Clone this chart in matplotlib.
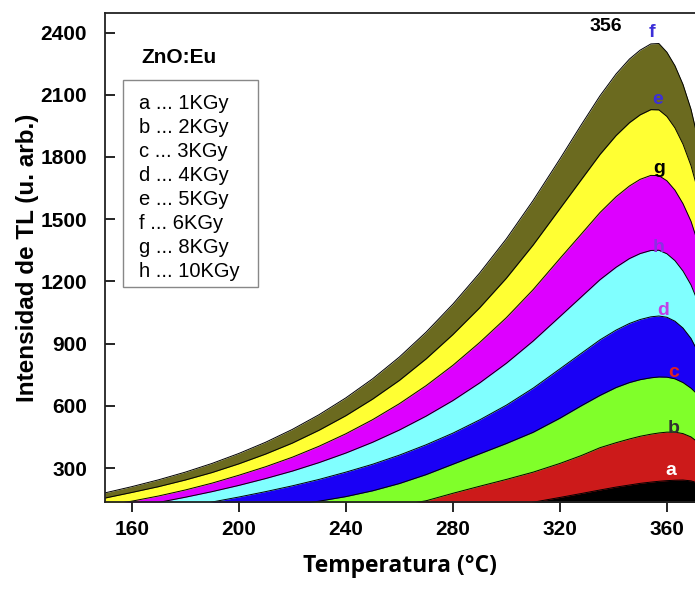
import matplotlib.pyplot as plt
from matplotlib.patches import Rectangle

# temperatures (°C) where the glow curves were read
temp = [150, 160, 170, 180, 190, 200, 210, 220, 230, 240, 250, 260, 270, 280, 290, 300, 310,
        320, 328, 335, 341, 346, 350, 354, 357, 360, 363, 366, 369, 371]

# TL intensity (u. arb.) for each dose
f_6kgy = [180, 210, 243, 280, 322, 370, 424, 486, 557, 638, 730, 835, 955, 1090, 1240, 1405, 1590,
          1790, 1955, 2095, 2200, 2272, 2315, 2345, 2347, 2305, 2240, 2150, 2030, 1920]
e_5kgy = [155, 182, 210, 242, 278, 320, 367, 420, 482, 552, 632, 722, 826, 943, 1072, 1215, 1375,
          1550, 1690, 1812, 1903, 1965, 2003, 2028, 2027, 1995, 1940, 1862, 1758, 1665]
g_8kgy = [120, 140, 165, 194, 227, 265, 306, 352, 405, 465, 533, 610, 697, 795, 905, 1025, 1160,
          1310, 1428, 1532, 1608, 1660, 1692, 1711, 1710, 1685, 1640, 1575, 1490, 1410]
h_10kgy = [92, 112, 134, 159, 186, 216, 249, 285, 326, 372, 424, 483, 550, 625, 710, 805, 912,
           1030, 1125, 1208, 1268, 1310, 1334, 1349, 1350, 1333, 1300, 1250, 1183, 1120]
d_4kgy = [55, 72, 92, 113, 136, 160, 186, 214, 245, 280, 318, 362, 412, 468, 532, 603, 685,
          778, 853, 918, 965, 997, 1016, 1029, 1033, 1027, 1008, 975, 925, 875]
c_3kgy = [40, 48, 57, 68, 80, 93, 107, 122, 140, 162, 190, 225, 268, 318, 368, 418, 472,
          540, 600, 650, 688, 712, 726, 735, 739, 738, 730, 712, 685, 660]
b_2kgy = [20, 25, 30, 36, 42, 50, 58, 67, 78, 90, 104, 120, 142, 178, 212, 245, 280,
          322, 360, 398, 422, 440, 453, 463, 469, 473, 473, 466, 450, 430]
a_1kgy = [0, 5, 10, 16, 22, 28, 35, 42, 50, 58, 67, 76, 86, 96, 107, 119, 135,
          158, 177, 194, 208, 218, 226, 232, 236, 239, 241, 242, 238, 230]

curves = [f_6kgy, e_5kgy, g_8kgy, h_10kgy, d_4kgy, c_3kgy, b_2kgy, a_1kgy]
colors = ['#6b6a1f', '#ffff33', '#dd00ff', '#80ffff', '#1a00f5', '#80ff2a', '#cc1a1a', '#000000']

letters = ['f', 'e', 'g', 'h', 'd', 'c', 'b', 'a']
letter_x = [354.5, 356.5, 357, 357, 358.5, 362.5, 362.5, 361.5]
letter_y = [2400, 2075, 1745, 1362, 1060, 760, 490, 290]
letter_c = ['#3c2fd8', '#3c2fd8', '#000000', '#8a30e0', '#c040e8', '#e02020', '#303030', '#ffffff']

legend_lines = ['a ... 1KGy', 'b ... 2KGy', 'c ... 3KGy', 'd ... 4KGy',
                'e ... 5KGy', 'f ... 6KGy', 'g ... 8KGy', 'h ... 10KGy']

fig = plt.figure(figsize=(6.95, 5.92), dpi=100)
ax = fig.add_axes([0.151, 0.152, 0.849, 0.826])

for y, c in zip(curves, colors):
    ax.fill_between(temp, 0, y, color=c, lw=0)
    ax.plot(temp, y, color='black', lw=0.7)

ax.set_xlim(150, 370.5)
ax.set_ylim(136, 2494)
ax.set_xticks([160, 200, 240, 280, 320, 360])
ax.set_yticks([300, 600, 900, 1200, 1500, 1800, 2100, 2400])
ax.spines['right'].set_visible(False)
for s in ['left', 'top', 'bottom']:
    ax.spines[s].set_linewidth(1.3)
    ax.spines[s].set_color('#222222')
ax.tick_params(axis='y', direction='in', length=7, width=1.2, pad=13)
ax.tick_params(axis='x', direction='out', length=7, width=1.2, pad=6)
for lab in ax.get_xticklabels() + ax.get_yticklabels():
    lab.set_fontfamily('Liberation Sans')
    lab.set_fontweight('bold')
    lab.set_fontsize(15)

ax.set_xlabel('Temperatura (°C)', family='Open Sans', weight='bold', fontsize=16.5, labelpad=11)
ax.set_ylabel('Intensidad de TL (u. arb.)', family='Liberation Sans', weight='bold',
              fontsize=17.5, labelpad=1)

for l, x, y, c in zip(letters, letter_x, letter_y, letter_c):
    ax.text(x, y, l, color=c, fontsize=14, fontweight='bold', family='Liberation Sans',
            ha='center', va='center')

ax.text(337, 2430, '356', fontsize=14, fontweight='bold', family='Liberation Sans',
        ha='center', va='center')
ax.text(0.125, 0.91, 'ZnO:Eu', transform=ax.transAxes, fontsize=15, fontweight='bold',
        family='Liberation Sans', ha='center', va='center')

ax.add_patch(Rectangle((0.0305, 0.4397), 0.229, 0.423, transform=ax.transAxes,
                       fill=False, edgecolor='#888888', lw=1.0))
for i, t in enumerate(legend_lines):
    ax.text(0.057, (502 - 103 - i * 24.1) / 489, t, transform=ax.transAxes,
            fontsize=14.5, family='Liberation Sans', ha='left', va='center')

fig.savefig('out.png', dpi=100)
